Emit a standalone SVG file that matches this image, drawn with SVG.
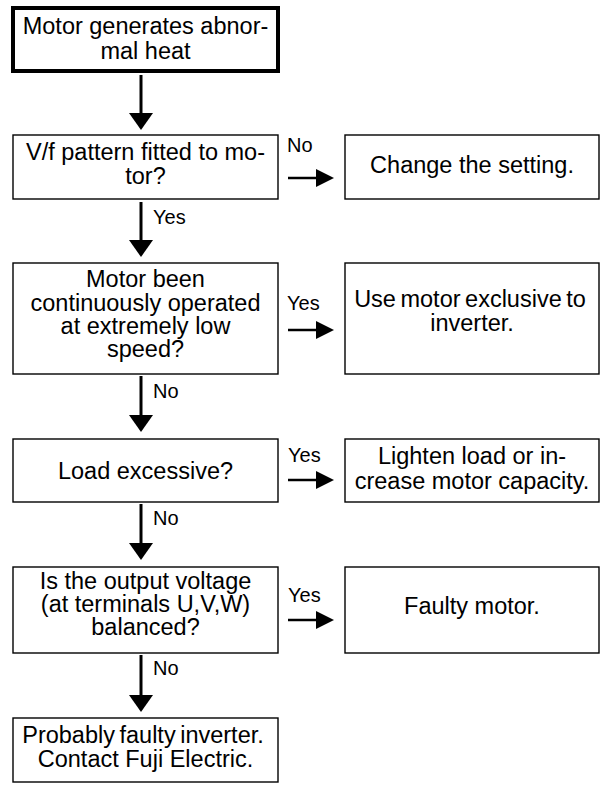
<svg xmlns="http://www.w3.org/2000/svg" width="605" height="787" viewBox="0 0 605 787">
<style>
.box{fill:#fff;stroke:#000;stroke-width:1.4}
.start{fill:#fff;stroke:#000;stroke-width:4}
.t{font-family:"Liberation Sans",Arial,sans-serif;font-size:23.5px;fill:#000;text-anchor:middle}
.tight{word-spacing:-2px}
.lbl{font-family:"Liberation Sans",Arial,sans-serif;font-size:20px;fill:#000}
.v{stroke:#000;stroke-width:3;fill:none}
.h{stroke:#000;stroke-width:2.5;fill:none}
.head{fill:#000;stroke:none}
</style>
<rect width="605" height="787" fill="#fff"/>
<g id="connectors">
  <line class="v" x1="141" y1="75" x2="141" y2="114"/>
  <polygon class="head" points="129,113 153,113 141,130"/>
  <line class="v" x1="141" y1="202" x2="141" y2="241"/>
  <polygon class="head" points="129,240 153,240 141,257"/>
  <text class="lbl" x="153" y="224">Yes</text>
  <line class="v" x1="141" y1="376" x2="141" y2="416"/>
  <polygon class="head" points="129,415 153,415 141,432"/>
  <text class="lbl" x="153" y="398">No</text>
  <line class="v" x1="141" y1="504" x2="141" y2="544"/>
  <polygon class="head" points="129,543 153,543 141,560"/>
  <text class="lbl" x="153" y="525">No</text>
  <line class="v" x1="141" y1="655" x2="141" y2="696"/>
  <polygon class="head" points="129,695 153,695 141,712"/>
  <text class="lbl" x="153" y="675">No</text>

  <line class="h" x1="288" y1="178" x2="318" y2="178"/>
  <polygon class="head" points="316,169 316,187 334,178"/>
  <text class="lbl" x="287" y="152">No</text>
  <line class="h" x1="288" y1="330" x2="318" y2="330"/>
  <polygon class="head" points="316,321 316,339 334,330"/>
  <text class="lbl" x="287" y="310">Yes</text>
  <line class="h" x1="288" y1="480" x2="318" y2="480"/>
  <polygon class="head" points="316,471 316,489 334,480"/>
  <text class="lbl" x="288" y="462">Yes</text>
  <line class="h" x1="288" y1="620" x2="318" y2="620"/>
  <polygon class="head" points="316,611 316,629 334,620"/>
  <text class="lbl" x="288" y="602">Yes</text>
</g>
<g id="start">
  <rect class="start" x="13" y="8" width="265" height="63"/>
  <text class="t" x="145.5" y="33.5">Motor generates abnor-</text>
  <text class="t" x="145.5" y="58.5">mal heat</text>
</g>
<g id="q1">
  <rect class="box" x="13" y="135" width="265" height="64"/>
  <text class="t" x="145.5" y="160">V/f pattern fitted to mo-</text>
  <text class="t" x="145.5" y="184">tor?</text>
</g>
<g id="a1">
  <rect class="box" x="345" y="135" width="254" height="64"/>
  <text class="t" x="472" y="173">Change the setting.</text>
</g>
<g id="q2">
  <rect class="box" x="13" y="263" width="265" height="111"/>
  <text class="t" x="145.5" y="287">Motor been</text>
  <text class="t" x="145.5" y="311">continuously operated</text>
  <text class="t" x="145.5" y="334">at extremely low</text>
  <text class="t" x="145.5" y="357">speed?</text>
</g>
<g id="a2">
  <rect class="box" x="345" y="263" width="254" height="111"/>
  <text class="t tight" x="470" y="307">Use motor exclusive to</text>
  <text class="t" x="472" y="331">inverter.</text>
</g>
<g id="q3">
  <rect class="box" x="13" y="439" width="265" height="63"/>
  <text class="t" x="145.5" y="479">Load excessive?</text>
</g>
<g id="a3">
  <rect class="box" x="345" y="439" width="254" height="63"/>
  <text class="t" x="472" y="464">Lighten load or in-</text>
  <text class="t" x="472" y="489">crease motor capacity.</text>
</g>
<g id="q4">
  <rect class="box" x="13" y="567" width="265" height="86"/>
  <text class="t" x="145.5" y="589">Is the output voltage</text>
  <text class="t" x="145.5" y="612">(at terminals U,V,W)</text>
  <text class="t" x="145.5" y="635">balanced?</text>
</g>
<g id="a4">
  <rect class="box" x="345" y="567" width="254" height="86"/>
  <text class="t" x="472" y="614">Faulty motor.</text>
</g>
<g id="end">
  <rect class="box" x="13" y="718" width="265" height="64"/>
  <text class="t tight" x="143" y="743">Probably faulty inverter.</text>
  <text class="t" x="145.5" y="767">Contact Fuji Electric.</text>
</g>
</svg>
